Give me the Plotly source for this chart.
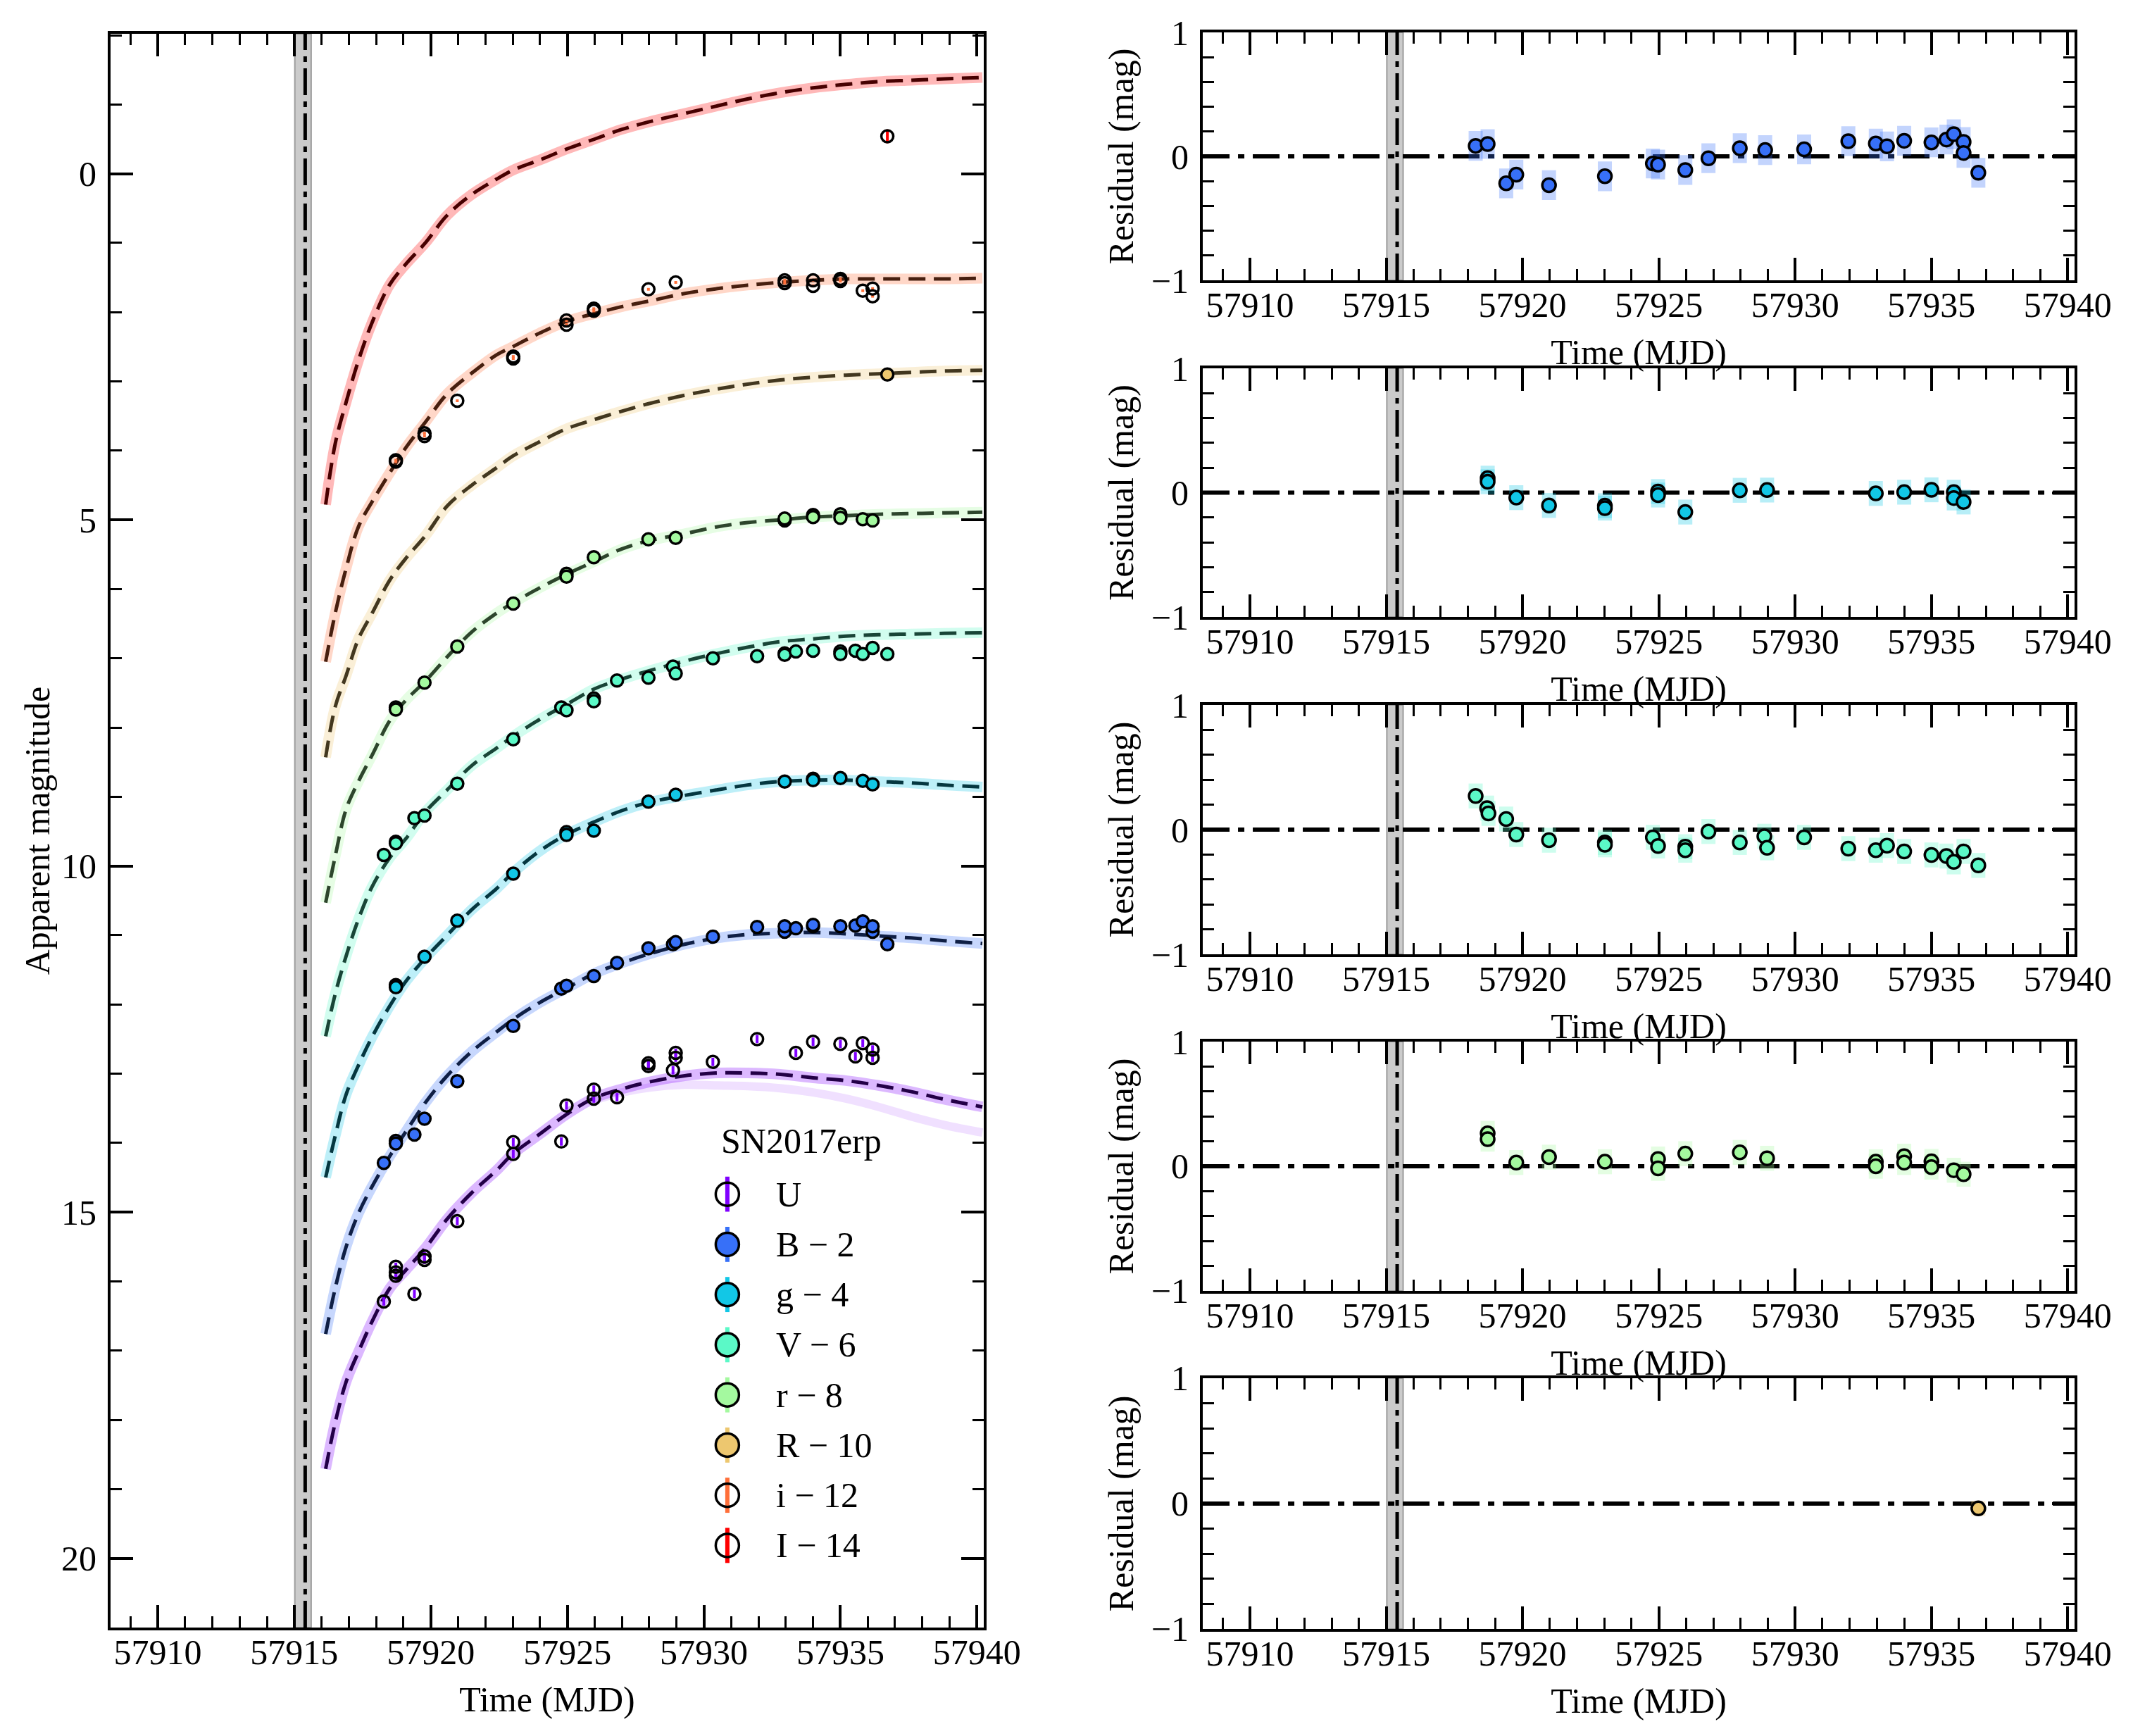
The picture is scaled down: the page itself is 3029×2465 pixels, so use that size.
import plotly.graph_objects as go

FONT = "Liberation Serif"
FS = 50

# ---------------- bands ----------------
bands = ["U", "B", "g", "V", "r", "R", "i", "I"]
offsets = [0, 2, 4, 6, 8, 10, 12, 14]
band_rgb = [(128, 0, 255), (55, 112, 248), (18, 199, 230), (91, 249, 199),
            (164, 249, 159), (237, 199, 111), (255, 111, 57), (255, 0, 0)]
filled = [False, True, True, True, True, True, False, False]
mag_err = [0.06, 0.02, 0.02, 0.02, 0.02, 0.02, 0.02, 0.10]

# explosion epoch and its uncertainty band
t_exp = 57915.40
t_exp_lo = 57915.02
t_exp_hi = 57915.62

# ---------------- model light curves (apparent mag) ----------------
model_t = [57916.15, 57916.5, 57916.9, 57917.35, 57917.85, 57918.5, 57919.1, 57919.8,
           57920.6, 57921.5, 57922.4, 57923.0, 57924.0, 57925.0, 57926.0, 57927.0,
           57928.0, 57929.3, 57930.5, 57931.6, 57932.8, 57934.0, 57935.2, 57936.4,
           57937.6, 57938.8, 57940.2]
model_U = [18.71, 18.04, 17.45, 17.02, 16.58, 16.10, 15.83, 15.52, 15.10, 14.72, 14.40,
           14.16, 13.87, 13.58, 13.35, 13.22, 13.12, 13.03, 12.99, 12.99, 13.01, 13.06,
           13.10, 13.17, 13.26, 13.37, 13.48]
model_B = [18.76, 18.10, 17.50, 17.02, 16.63, 16.19, 15.83, 15.42, 15.03, 14.68, 14.40,
           14.22, 13.97, 13.76, 13.55, 13.40, 13.27, 13.13, 13.04, 12.99, 12.97, 12.96,
           12.98, 13.01, 13.04, 13.08, 13.12]
model_g = [18.50, 17.90, 17.30, 16.88, 16.47, 16.02, 15.66, 15.33, 15.00, 14.63, 14.33,
           14.10, 13.78, 13.54, 13.36, 13.20, 13.08, 12.98, 12.90, 12.83, 12.78, 12.76,
           12.76, 12.78, 12.80, 12.83, 12.86]
model_V = [18.46, 17.85, 17.30, 16.77, 16.30, 15.88, 15.60, 15.22, 14.90, 14.55, 14.30,
           14.13, 13.88, 13.66, 13.44, 13.30, 13.18, 13.04, 12.93, 12.84, 12.76, 12.72,
           12.68, 12.66, 12.65, 12.64, 12.63]
model_r = [18.53, 17.86, 17.18, 16.78, 16.40, 15.90, 15.60, 15.33, 14.98, 14.62, 14.35,
           14.20, 13.98, 13.78, 13.60, 13.42, 13.30, 13.20, 13.10, 13.04, 13.00, 12.96,
           12.94, 12.92, 12.91, 12.90, 12.89]
model_R = [18.43, 17.70, 17.25, 16.72, 16.35, 15.87, 15.55, 15.23, 14.80, 14.50, 14.25,
           14.08, 13.87, 13.68, 13.55, 13.43, 13.32, 13.20, 13.11, 13.04, 12.98, 12.94,
           12.91, 12.89, 12.87, 12.85, 12.84]
model_i = [19.05, 18.35, 17.70, 17.10, 16.74, 16.32, 15.95, 15.59, 15.18, 14.88, 14.62,
           14.50, 14.30, 14.13, 14.02, 13.92, 13.84, 13.73, 13.66, 13.61, 13.57, 13.54,
           13.52, 13.52, 13.52, 13.52, 13.51]
model_I = [18.78, 17.90, 17.30, 16.70, 16.15, 15.60, 15.30, 15.00, 14.60, 14.30, 14.08,
           13.95, 13.80, 13.64, 13.50, 13.36, 13.25, 13.13, 13.02, 12.92, 12.83, 12.76,
           12.71, 12.67, 12.65, 12.63, 12.61]
# fainter U sample that drifts below the median at late times
u_alt_t = [57926.0, 57927.0, 57928.0, 57929.3, 57930.5, 57931.6, 57932.8, 57934.0,
           57935.2, 57936.4, 57937.6, 57938.8, 57940.2]
u_alt = [13.38, 13.27, 13.20, 13.16, 13.17, 13.18, 13.21, 13.27, 13.36, 13.48, 13.62,
         13.74, 13.85]

# ---------------- photometry (apparent mag) ----------------
u_t = [57918.28, 57918.72, 57918.72, 57918.72, 57919.40, 57919.77, 57919.77, 57920.97,
       57923.02, 57923.02, 57924.78, 57924.97, 57925.97, 57925.97, 57926.82, 57927.97,
       57927.97, 57928.87, 57928.97, 57928.97, 57930.33, 57931.95, 57933.37, 57934.00,
       57935.00, 57935.55, 57935.82, 57936.18, 57936.18]
u_mag = [16.29, 15.79, 15.87, 15.92, 16.18, 15.64, 15.69, 15.13, 13.99, 14.16, 13.98,
         13.46, 13.23, 13.36, 13.34, 12.85, 12.89, 12.95, 12.77, 12.70, 12.83, 12.50,
         12.70, 12.54, 12.57, 12.75, 12.56, 12.65, 12.77]
b_t = [57918.28, 57918.72, 57918.72, 57919.40, 57919.77, 57920.97, 57923.02, 57924.78,
       57924.97, 57925.97, 57926.82, 57927.97, 57928.87, 57928.97, 57930.33, 57931.95,
       57932.96, 57932.96, 57933.37, 57934.00, 57934.00, 57935.00, 57935.55, 57935.82,
       57936.18, 57936.18, 57936.72]
b_mag = [16.29, 15.97, 16.01, 15.88, 15.65, 15.11, 14.31, 13.77, 13.73, 13.59, 13.40,
         13.19, 13.13, 13.10, 13.02, 12.88, 12.95, 12.87, 12.90, 12.87, 12.85, 12.87,
         12.86, 12.80, 12.95, 12.87, 13.13]
g_t = [57918.72, 57918.72, 57919.77, 57920.97, 57923.02, 57924.97, 57924.97, 57925.97,
       57927.97, 57928.97, 57932.96, 57934.00, 57934.00, 57935.00, 57935.82, 57936.18]
g_mag = [15.72, 15.75, 15.31, 14.79, 14.11, 13.51, 13.55, 13.49, 13.07, 12.97, 12.78,
         12.74, 12.76, 12.73, 12.77, 12.82]
v_t = [57918.28, 57918.72, 57918.72, 57919.40, 57919.77, 57920.97, 57923.02, 57924.78,
       57924.97, 57925.97, 57925.97, 57926.82, 57927.97, 57928.87, 57928.97, 57930.33,
       57931.95, 57932.96, 57932.96, 57933.37, 57934.00, 57935.00, 57935.00, 57935.55,
       57935.82, 57936.18, 57936.72]
v_mag = [15.84, 15.65, 15.67, 15.31, 15.27, 14.81, 14.17, 13.71, 13.75, 13.58, 13.62,
         13.32, 13.28, 13.12, 13.22, 13.00, 12.97, 12.93, 12.95, 12.90, 12.89, 12.90,
         12.94, 12.89, 12.94, 12.85, 12.94]
r_t = [57918.72, 57918.72, 57919.77, 57920.97, 57923.02, 57924.97, 57924.97, 57925.97,
       57927.97, 57928.97, 57932.96, 57932.96, 57934.00, 57934.00, 57935.00, 57935.00,
       57935.82, 57936.18]
r_mag = [15.71, 15.74, 15.35, 14.83, 14.21, 13.78, 13.82, 13.54, 13.28, 13.26, 13.01,
         12.98, 12.93, 12.96, 12.92, 12.97, 12.99, 13.01]
R_t = [57936.72]
R_mag = [12.90]
i_t = [57918.72, 57918.72, 57919.77, 57919.77, 57920.97, 57923.02, 57923.02, 57924.97,
       57924.97, 57925.97, 57925.97, 57927.97, 57928.97, 57932.96, 57932.96, 57934.00,
       57934.00, 57935.00, 57935.00, 57935.82, 57936.18, 57936.18]
i_mag = [16.14, 16.16, 15.75, 15.79, 15.28, 14.64, 14.67, 14.12, 14.18, 13.95, 13.98,
         13.67, 13.57, 13.54, 13.58, 13.54, 13.62, 13.52, 13.55, 13.69, 13.66, 13.77]
I_t = [57936.72]
I_mag = [13.46]

# ---------------- residuals (fitted bands) ----------------
res_b_t = [57918.28, 57918.72, 57919.40, 57919.77, 57920.97, 57923.02, 57924.78, 57924.97,
           57925.97, 57926.82, 57927.97, 57928.90, 57930.33, 57931.95, 57932.96, 57933.37,
           57934.00, 57935.00, 57935.55, 57935.82, 57936.18, 57936.18, 57936.72]
res_b = [0.085, 0.10, -0.217, -0.147, -0.232, -0.16, -0.057, -0.066, -0.11, -0.015, 0.066,
         0.051, 0.057, 0.123, 0.104, 0.081, 0.126, 0.113, 0.136, 0.179, 0.117, 0.028, -0.132]
res_g_t = [57918.72, 57918.72, 57919.77, 57920.97, 57923.02, 57923.02, 57924.97, 57924.97,
           57925.97, 57927.97, 57928.97, 57932.96, 57934.00, 57935.00, 57935.82, 57935.82,
           57936.18]
res_g = [0.117, 0.088, -0.04, -0.103, -0.105, -0.124, 0.009, -0.019, -0.156, 0.019, 0.021,
         -0.006, 0.004, 0.023, 0.004, -0.043, -0.075]
res_v_t = [57918.28, 57918.70, 57918.75, 57919.40, 57919.77, 57920.97, 57923.02, 57923.02,
           57924.78, 57924.97, 57925.97, 57925.97, 57926.82, 57927.97, 57928.87, 57928.97,
           57930.33, 57931.95, 57932.96, 57933.37, 57934.00, 57935.00, 57935.55, 57935.82,
           57936.18, 57936.72]
res_v = [0.27, 0.173, 0.13, 0.085, -0.039, -0.085, -0.103, -0.122, -0.062, -0.131, -0.137,
         -0.165, -0.015, -0.103, -0.053, -0.146, -0.062, -0.152, -0.165, -0.128, -0.175,
         -0.203, -0.212, -0.259, -0.175, -0.287]
res_r_t = [57918.72, 57918.72, 57919.77, 57920.97, 57923.02, 57924.97, 57924.97, 57925.97,
           57927.97, 57928.97, 57932.96, 57932.96, 57934.00, 57934.00, 57935.00, 57935.00,
           57935.82, 57936.18]
res_r = [0.264, 0.217, 0.03, 0.073, 0.036, 0.058, -0.017, 0.101, 0.111, 0.064, 0.036, 0.0,
         0.081, 0.03, 0.039, -0.007, -0.032, -0.064]
res_R_t = [57936.72]
res_R = [-0.039]

models = [model_U, model_B, model_g, model_V, model_r, model_R, model_i, model_I]
obs_t = [u_t, b_t, g_t, v_t, r_t, R_t, i_t, I_t]
obs_mag = [u_mag, b_mag, g_mag, v_mag, r_mag, R_mag, i_mag, I_mag]

# residual panels: band index, times, residuals, half-height of the posterior cloud
res_panels = [(1, res_b_t, res_b, 0.12), (2, res_g_t, res_g, 0.10), (3, res_v_t, res_v, 0.10),
              (4, res_r_t, res_r, 0.10), (5, res_R_t, res_R, 0.06)]


def rgba(c, a=1.0):
    return "rgba(%d,%d,%d,%.3f)" % (c[0], c[1], c[2], a)


def dark(c, f=0.28):
    return "rgb(%d,%d,%d)" % (c[0] * f, c[1] * f, c[2] * f)


def label(k):
    return bands[k] if offsets[k] == 0 else "%s \u2212 %d" % (bands[k], offsets[k])


fig = go.Figure()

# light posterior bands
for k in range(len(bands)):
    c = band_rgb[k]
    fig.add_trace(go.Scatter(x=model_t, y=[m - offsets[k] for m in models[k]], mode="lines",
                             line=dict(color=rgba(c, 0.28), width=15, shape="spline"),
                             showlegend=False, hoverinfo="skip"))
fig.add_trace(go.Scatter(x=u_alt_t, y=u_alt, mode="lines",
                         line=dict(color=rgba(band_rgb[0], 0.12), width=12, shape="spline"),
                         showlegend=False, hoverinfo="skip"))

# median models, dashed
for k in range(len(bands)):
    fig.add_trace(go.Scatter(x=model_t, y=[m - offsets[k] for m in models[k]], mode="lines",
                             line=dict(color=dark(band_rgb[k]), width=5, dash="24px,12px",
                                       shape="spline"),
                             showlegend=False, hoverinfo="skip"))

# photometry
for k in range(len(bands)):
    c = band_rgb[k]
    fig.add_trace(go.Scatter(
        x=obs_t[k], y=[m - offsets[k] for m in obs_mag[k]], mode="markers", name=label(k),
        marker=dict(size=17, color=rgba(c) if filled[k] else "rgba(0,0,0,0)",
                    line=dict(color="black", width=3.5)),
        error_y=dict(type="constant", value=mag_err[k], color=rgba(c), width=0,
                     thickness=4 if not filled[k] else 3),
        showlegend=False))

# residuals
for p, (k, rt, rv, hw) in enumerate(res_panels):
    c = band_rgb[k]
    xa = "x%d" % (p + 2)
    ya = "y%d" % (p + 2)
    fig.add_trace(go.Scatter(x=rt, y=rv, mode="markers", xaxis=xa, yaxis=ya,
                             marker=dict(size=2, opacity=0),
                             error_y=dict(type="constant", value=hw, color=rgba(c, 0.3),
                                          width=0, thickness=20),
                             showlegend=False, hoverinfo="skip"))
    fig.add_trace(go.Scatter(x=rt, y=rv, mode="markers", xaxis=xa, yaxis=ya,
                             marker=dict(size=19, color=rgba(c),
                                         line=dict(color="black", width=3.5)),
                             error_y=dict(type="constant", value=0.03, color="black",
                                          width=0, thickness=3),
                             showlegend=False))

# legend drawn on its own hidden axes (big symbols with error bars, as in the original)
legend_x = 0.11
for k in range(len(bands)):
    c = band_rgb[k]
    fig.add_trace(go.Scatter(
        x=[legend_x], y=[k], mode="markers", xaxis="x7", yaxis="y7", cliponaxis=False,
        marker=dict(size=33, color=rgba(c) if filled[k] else "rgba(0,0,0,0)",
                    line=dict(color="black", width=3.5)),
        error_y=dict(type="constant", value=0.35, color=rgba(c), width=0, thickness=6),
        showlegend=False, hoverinfo="skip"))

# ---------------- axes ----------------
XRANGE = [57908.27, 57940.25]
tick_font = dict(family=FONT, size=FS, color="black")
title_font = dict(family=FONT, size=FS, color="black")


def base_axis():
    return dict(showline=True, linecolor="black", linewidth=4, mirror="ticks",
                ticks="inside", ticklen=32, tickwidth=3.5, tickcolor="black",
                showgrid=False, zeroline=False, automargin=False, tickfont=tick_font)


def x_axis(domain, anchor):
    a = base_axis()
    a.update(domain=domain, anchor=anchor, range=XRANGE, tick0=57910, dtick=5,
             tickformat="d", ticklabelstandoff=-12,
             minor=dict(ticks="inside", ticklen=16, tickwidth=3, tickcolor="black",
                        tick0=57910, dtick=1, showgrid=False),
             title=dict(text="Time (MJD)", font=title_font, standoff=23))
    return a


left_x = [0.0518, 0.4612]
left_y = [0.0625, 0.9805]
right_x = [0.5639, 0.9726]
right_y = [[0.8385, 0.9813], [0.6446, 0.7878], [0.4503, 0.5939], [0.2564, 0.4000],
           [0.0617, 0.2061]]

layout = dict(width=3029, height=2465, template="none",
              margin=dict(l=0, r=0, t=0, b=0, autoexpand=False),
              paper_bgcolor="white", plot_bgcolor="white", showlegend=False,
              font=dict(family=FONT, size=FS, color="black"))

layout["xaxis"] = x_axis(left_x, "y")
ly = base_axis()
ly.update(domain=left_y, anchor="x", range=[21.0, -2.02], tick0=0, dtick=5,
          ticklabelstandoff=6,
          minor=dict(ticks="inside", ticklen=16, tickwidth=3, tickcolor="black",
                     tick0=0, dtick=1, showgrid=False),
          title=dict(text="Apparent magnitude", font=title_font, standoff=1))
layout["yaxis"] = ly

for p in range(5):
    n = p + 2
    layout["xaxis%d" % n] = x_axis(right_x, "y%d" % n)
    ry = base_axis()
    ry.update(domain=right_y[p], anchor="x%d" % n, range=[-1, 1], tick0=0, dtick=1,
              ticklabelstandoff=6,
              minor=dict(ticks="inside", ticklen=16, tickwidth=3, tickcolor="black",
                         tick0=0, dtick=0.2, showgrid=False),
              title=dict(text="Residual (mag)", font=title_font, standoff=10))
    layout["yaxis%d" % n] = ry

# hidden axes carrying the legend
layout["xaxis7"] = dict(domain=[0.3301, 0.4292], anchor="y7", range=[0, 1], visible=False,
                        fixedrange=True)
layout["yaxis7"] = dict(domain=[0.09533, 0.32657], anchor="x7", range=[7.5, -0.5],
                        visible=False, fixedrange=True)

annotations = [dict(xref="paper", yref="paper", x=0.3757, y=0.3428, text="SN2017erp",
                    showarrow=False, xanchor="center", yanchor="middle",
                    font=dict(family=FONT, size=FS, color="black"))]
for k in range(len(bands)):
    annotations.append(dict(xref="x7", yref="y7", x=0.333, y=k, text=label(k),
                            showarrow=False, xanchor="left", yanchor="middle",
                            font=dict(family=FONT, size=FS, color="black")))
layout["annotations"] = annotations

# explosion epoch band + line in every panel, zero line in residual panels
shapes = []
for n in range(1, 7):
    xr = "x" if n == 1 else "x%d" % n
    yd = "y domain" if n == 1 else "y%d domain" % n
    shapes.append(dict(type="rect", xref=xr, yref=yd, x0=t_exp_lo, x1=t_exp_hi, y0=0, y1=1,
                       fillcolor="rgba(160,160,160,0.55)",
                       line=dict(color="rgba(140,140,140,0.8)", width=2), layer="below"))
    shapes.append(dict(type="line", xref=xr, yref=yd, x0=t_exp, x1=t_exp, y0=0, y1=1,
                       line=dict(color="black", width=5, dash="38px,9px,8px,9px"),
                       layer="below"))
    if n > 1:
        shapes.append(dict(type="line", xref="x%d domain" % n, yref="y%d" % n, x0=0, x1=1,
                           y0=0, y1=0,
                           line=dict(color="black", width=6, dash="38px,12px,9px,12px"),
                           layer="below"))
layout["shapes"] = shapes

fig.update_layout(**layout)
fig.write_html("out.html", config={"displayModeBar": False},
               post_script="document.body.style.margin='0';")
